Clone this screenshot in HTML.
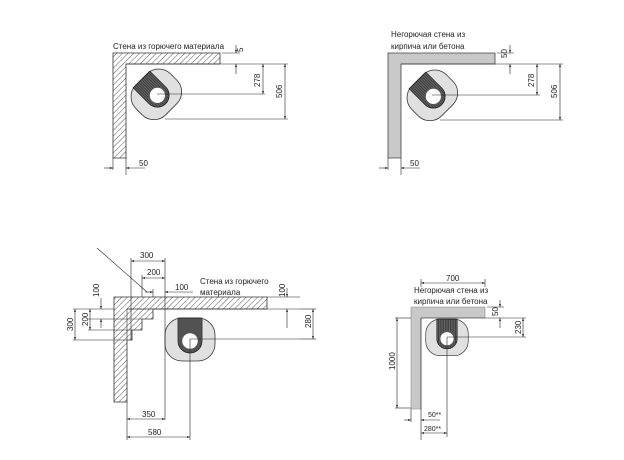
<!DOCTYPE html>
<html><head><meta charset="utf-8"><style>
html,body{margin:0;padding:0;background:#fff;}
svg{display:block;}
text{font-family:"Liberation Sans",sans-serif;font-size:8px;fill:#222;}
</style></head><body>
<svg width="624" height="460" viewBox="0 0 624 460" xmlns="http://www.w3.org/2000/svg">
<defs>
<pattern id="h" patternUnits="userSpaceOnUse" width="4" height="4" patternTransform="rotate(45)">
<rect width="4" height="4" fill="#fff"/><line x1="0" y1="0" x2="0" y2="4" stroke="#444" stroke-width="0.9"/>
</pattern>
<pattern id="g" patternUnits="userSpaceOnUse" width="2" height="4">
<rect width="2" height="4" fill="#3a3a3a"/><line x1="1" y1="0" x2="1" y2="4" stroke="#888" stroke-width="0.6"/>
</pattern>
<g id="stove">
<rect x="-25" y="-21" width="50" height="43" rx="17" fill="#e0e0e0" stroke="#333" stroke-width="0.8"/>
<path d="M-12,-21 L-12,2 A12,12 0 0 0 12,2 L12,-21 Z" fill="url(#g)" stroke="#222" stroke-width="0.8"/>
<circle cx="0" cy="2" r="8.5" fill="#fff" stroke="#555" stroke-width="1.5"/>
</g>
<marker id="a" viewBox="0 0 6 6" refX="6" refY="3" markerWidth="5" markerHeight="5" orient="auto-start-reverse"><path d="M0,1 L6,3 L0,5 Z" fill="#222"/></marker>
</defs>
<g stroke="#222" stroke-width="0.6" fill="none">

<!-- Diagram 1 -->
<path d="M113,53 H220 V64 H126 V158 H113 Z" fill="url(#h)" stroke="#333" stroke-width="0.8"/>
<use href="#stove" transform="translate(156,94) rotate(-45) scale(0.98)"/>
<line x1="157" y1="94" x2="265" y2="94"/>
<line x1="126" y1="64" x2="288" y2="64"/>
<line x1="165" y1="119" x2="288" y2="119"/>
<line x1="222" y1="53" x2="240" y2="53"/>
<line x1="236" y1="45" x2="236" y2="53" marker-end="url(#a)"/>
<line x1="236" y1="74" x2="236" y2="64" marker-end="url(#a)"/>
<line x1="263" y1="64" x2="263" y2="94" marker-start="url(#a)" marker-end="url(#a)"/>
<line x1="285" y1="64" x2="285" y2="119" marker-start="url(#a)" marker-end="url(#a)"/>
<line x1="126" y1="158" x2="126" y2="175"/>
<line x1="113" y1="158" x2="113" y2="170"/>
<line x1="104" y1="168" x2="113" y2="168" marker-end="url(#a)"/>
<line x1="145" y1="168" x2="126" y2="168" marker-end="url(#a)"/>

<!-- Diagram 2 -->
<path d="M388,53 H495 V64 H401 V158 H388 Z" fill="#c8c8c8" stroke="#444" stroke-width="0.8"/>
<use href="#stove" transform="translate(432,95) rotate(-45) scale(0.98)"/>
<line x1="432" y1="95" x2="540" y2="95"/>
<line x1="401" y1="64" x2="563" y2="64"/>
<line x1="440" y1="120" x2="563" y2="120"/>
<line x1="497" y1="53" x2="514" y2="53"/>
<line x1="510" y1="45" x2="510" y2="53" marker-end="url(#a)"/>
<line x1="510" y1="74" x2="510" y2="64" marker-end="url(#a)"/>
<line x1="537" y1="64" x2="537" y2="95" marker-start="url(#a)" marker-end="url(#a)"/>
<line x1="560" y1="64" x2="560" y2="120" marker-start="url(#a)" marker-end="url(#a)"/>
<line x1="401" y1="158" x2="401" y2="175"/>
<line x1="388" y1="158" x2="388" y2="170"/>
<line x1="379" y1="168" x2="388" y2="168" marker-end="url(#a)"/>
<line x1="420" y1="168" x2="401" y2="168" marker-end="url(#a)"/>

<!-- Diagram 3 -->
<path d="M114,297 H267 V309 H153 V319 H142 V330 H132 V340 H127 V402 H114 Z" fill="url(#h)" stroke="#333" stroke-width="0.8"/>
<path d="M127,309 H153 M127,319 H142 M127,330 H132 M127,309 V340" stroke="#333" stroke-width="0.6"/>
<use href="#stove" transform="translate(190,339)"/>
<line x1="97" y1="248" x2="147" y2="292"/>
<line x1="190" y1="339" x2="300" y2="339"/>
<line x1="190" y1="339" x2="190" y2="440"/>
<line x1="127" y1="309" x2="300" y2="309"/>
<line x1="267" y1="297" x2="300" y2="297"/>
<line x1="287" y1="288" x2="287" y2="297" marker-end="url(#a)"/>
<line x1="287" y1="328" x2="287" y2="309" marker-end="url(#a)"/>
<line x1="300" y1="309" x2="316" y2="309"/>
<line x1="300" y1="339" x2="316" y2="339"/>
<line x1="313" y1="309" x2="313" y2="339" marker-start="url(#a)" marker-end="url(#a)"/>
<line x1="131" y1="258" x2="131" y2="340"/>
<line x1="165" y1="258" x2="165" y2="420"/>
<line x1="131" y1="261" x2="165" y2="261" marker-start="url(#a)" marker-end="url(#a)"/>
<line x1="142" y1="275" x2="142" y2="297"/>
<line x1="142" y1="278" x2="165" y2="278" marker-start="url(#a)" marker-end="url(#a)"/>
<line x1="153" y1="289" x2="153" y2="297"/>
<line x1="145" y1="292" x2="153" y2="292" marker-end="url(#a)"/>
<line x1="193" y1="292" x2="165" y2="292" marker-end="url(#a)"/>
<line x1="73" y1="309" x2="114" y2="309"/>
<line x1="88" y1="319" x2="127" y2="319"/>
<line x1="88" y1="330" x2="127" y2="330"/>
<line x1="73" y1="340" x2="127" y2="340"/>
<line x1="101" y1="298" x2="101" y2="309" marker-end="url(#a)"/>
<line x1="101" y1="328" x2="101" y2="319" marker-end="url(#a)"/>
<line x1="90" y1="309" x2="90" y2="330" marker-start="url(#a)" marker-end="url(#a)"/>
<line x1="75" y1="309" x2="75" y2="340" marker-start="url(#a)" marker-end="url(#a)"/>
<line x1="127" y1="402" x2="127" y2="440"/>
<line x1="127" y1="419" x2="165" y2="419" marker-start="url(#a)" marker-end="url(#a)"/>
<line x1="127" y1="437" x2="190" y2="437" marker-start="url(#a)" marker-end="url(#a)"/>

<!-- Diagram 4 -->
<path d="M411,307 H485 V318 H421 V409 H411 Z" fill="#c8c8c8" stroke="#888" stroke-width="0.6"/>
<use href="#stove" transform="translate(447,337) scale(0.85)"/>
<line x1="447" y1="337" x2="526" y2="337"/>
<line x1="447" y1="337" x2="447" y2="437"/>
<line x1="421" y1="318" x2="526" y2="318"/>
<line x1="421" y1="318" x2="421" y2="440"/>
<line x1="421" y1="279" x2="421" y2="287"/>
<line x1="485" y1="279" x2="485" y2="287"/>
<line x1="421" y1="283" x2="485" y2="283" marker-start="url(#a)" marker-end="url(#a)"/>
<line x1="487" y1="307" x2="504" y2="307"/>
<line x1="500" y1="300" x2="500" y2="307" marker-end="url(#a)"/>
<line x1="500" y1="328" x2="500" y2="318" marker-end="url(#a)"/>
<line x1="523" y1="318" x2="523" y2="337" marker-start="url(#a)" marker-end="url(#a)"/>
<line x1="395" y1="318" x2="411" y2="318"/>
<line x1="395" y1="408" x2="411" y2="408"/>
<line x1="397" y1="318" x2="397" y2="408" marker-start="url(#a)" marker-end="url(#a)"/>
<line x1="411" y1="409" x2="411" y2="422"/>
<line x1="404" y1="420" x2="411" y2="420" marker-end="url(#a)"/>
<line x1="440" y1="420" x2="421" y2="420" marker-end="url(#a)"/>
<line x1="421" y1="433" x2="447" y2="433" marker-start="url(#a)" marker-end="url(#a)"/>
</g>

<text x="113" y="49">Стена из горючего материала</text>
<text transform="translate(243,52) rotate(-90)">5</text>
<text transform="translate(260,87) rotate(-90)">278</text>
<text transform="translate(282,98) rotate(-90)">506</text>
<text x="139" y="166">50</text>

<text x="391" y="37">Негорючая стена из</text>
<text x="391" y="49">кирпича или бетона</text>
<text transform="translate(507,58) rotate(-90)">50</text>
<text transform="translate(534,87) rotate(-90)">278</text>
<text transform="translate(557,98) rotate(-90)">506</text>
<text x="410" y="166">50</text>

<text x="140" y="258">300</text>
<text x="147" y="275">200</text>
<text x="175" y="290">100</text>
<text x="200" y="284">Стена из горючего</text>
<text x="200" y="295">материала</text>
<text transform="translate(285,297) rotate(-90)">100</text>
<text transform="translate(311,328) rotate(-90)">280</text>
<text transform="translate(99,297) rotate(-90)">100</text>
<text transform="translate(88,326) rotate(-90)">200</text>
<text transform="translate(73,331) rotate(-90)">300</text>
<text x="142" y="417">350</text>
<text x="148" y="435">580</text>

<text x="446" y="281">700</text>
<text x="414" y="293">Негорючая стена из</text>
<text x="414" y="304">кирпича или бетона</text>
<text transform="translate(498,316) rotate(-90)">50</text>
<text transform="translate(521,334) rotate(-90)">230</text>
<text transform="translate(395,370) rotate(-90)">1000</text>
<text x="428" y="417" style="font-size:7px">50**</text>
<text x="424" y="431" style="font-size:7px">280**</text>
</svg>
</body></html>
